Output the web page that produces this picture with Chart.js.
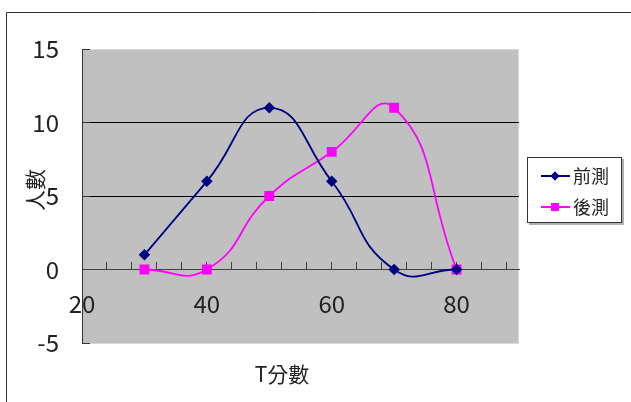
<!DOCTYPE html>
<html>
<head>
<meta charset="utf-8">
<script src="https://cdn.jsdelivr.net/npm/chart.js@4.4.1/dist/chart.umd.min.js"></script>
<style>
  html, body { margin: 0; padding: 0; background: #fff; }
  #wrap { width: 631px; height: 402px; position: relative; }
</style>
</head>
<body>
<div id="wrap"><canvas id="c" width="631" height="402"></canvas></div>
<script>
// data
const scores = [30, 40, 50, 60, 70, 80];
const preTest = [1, 6, 11, 6, 0, 0];
const postTest = [0, 0, 5, 8, 11, 0];
const xTickLabels = [20, 40, 60, 80];
const yGridValues = [5, 10];

const FONT = "'Noto Sans CJK TC', 'Noto Sans', sans-serif";

// gray plot area + outer frame + axis titles
const backdrop = {
    id: 'backdrop',
    beforeDraw(chart) {
        const { ctx, chartArea: a } = chart;
        ctx.save();
        ctx.fillStyle = '#fff';
        ctx.fillRect(0, 0, chart.width, chart.height);
        ctx.fillStyle = '#c0c0c0';
        ctx.fillRect(a.left, a.top, a.right - a.left, a.bottom - a.top);
        ctx.strokeStyle = '#d9d9d9';
        ctx.lineWidth = 1;
        ctx.strokeRect(a.left + 0.5, a.top + 0.5, a.right - a.left - 1, a.bottom - a.top);
        // outer chart frame (top and left edges show)
        ctx.strokeStyle = '#333';
        ctx.beginPath();
        ctx.moveTo(6.5, 402);
        ctx.lineTo(6.5, 12.5);
        ctx.lineTo(631, 12.5);
        ctx.stroke();
        ctx.restore();
    },
    afterDraw(chart) {
        const { ctx } = chart;
        ctx.save();
        ctx.fillStyle = '#222';
        ctx.font = '21px ' + FONT;
        ctx.textAlign = 'center';
        ctx.textBaseline = 'middle';
        ctx.fillText('T分數', 282, 374);
        ctx.translate(35, 190);
        ctx.rotate(-Math.PI / 2);
        ctx.fillText('人數', 0, 0);
        ctx.restore();
    }
};

// boxed legend on the right
const boxLegend = {
    id: 'boxLegend',
    afterDraw(chart) {
        const { ctx } = chart;
        ctx.save();
        ctx.fillStyle = '#b0b0b0';
        ctx.fillRect(529, 159, 95, 66);
        ctx.fillStyle = '#fff';
        ctx.fillRect(527, 157, 95, 66);
        ctx.strokeStyle = '#333';
        ctx.lineWidth = 1;
        ctx.strokeRect(527.5, 157.5, 94, 65);
        chart.data.datasets.forEach((ds, i) => {
            const y = 176 + i * 31;
            ctx.strokeStyle = ds.borderColor;
            ctx.lineWidth = 2;
            ctx.beginPath();
            ctx.moveTo(541, y);
            ctx.lineTo(570, y);
            ctx.stroke();
            ctx.fillStyle = ds.pointBackgroundColor;
            Chart.helpers.drawPoint(ctx, { pointStyle: ds.pointStyle, radius: ds.pointRadius, rotation: 0, borderWidth: 0 }, 555, y);
            ctx.fill();
            ctx.fillStyle = '#222';
            ctx.font = '18px ' + FONT;
            ctx.textAlign = 'left';
            ctx.textBaseline = 'middle';
            ctx.fillText(ds.label, 573, y);
        });
        ctx.restore();
    }
};

new Chart(document.getElementById('c'), {
    type: 'line',
    data: {
        datasets: [
            {
                label: '前測',
                data: scores.map((x, i) => ({ x: x, y: preTest[i] })),
                borderColor: '#000080',
                backgroundColor: '#000080',
                pointBackgroundColor: '#000080',
                pointBorderColor: '#000080',
                pointStyle: 'rectRot',
                pointRadius: 4.5,
                borderWidth: 1.8,
                tension: 0.5
            },
            {
                label: '後測',
                data: scores.map((x, i) => ({ x: x, y: postTest[i] })),
                borderColor: '#ff00ff',
                backgroundColor: '#ff00ff',
                pointBackgroundColor: '#ff00ff',
                pointBorderColor: '#ff00ff',
                pointStyle: 'rect',
                pointRadius: 5.7,
                borderWidth: 1.8,
                tension: 0.5
            }
        ]
    },
    options: {
        responsive: false,
        animation: false,
        layout: { padding: { left: 0, top: 49, right: 112, bottom: 59 } },
        plugins: { legend: { display: false }, tooltip: { enabled: false } },
        scales: {
            x: {
                type: 'linear',
                position: { y: 0 },
                min: 20,
                max: 90,
                afterFit(s) { s.height = 0; },
                border: { display: true, color: '#404040', width: 1 },
                grid: { drawOnChartArea: false, tickLength: -8, tickColor: '#404040' },
                ticks: {
                    stepSize: 4,
                    includeBounds: false,
                    autoSkip: false,
                    maxRotation: 0,
                    padding: 28,
                    color: '#222',
                    font: { family: FONT, size: 24 },
                    callback: v => xTickLabels.includes(v) ? String(v) : ''
                }
            },
            y: {
                min: -5,
                max: 15,
                afterFit(s) { s.width = 82; },
                border: { display: true, color: '#333', width: 1 },
                grid: {
                    color: c => yGridValues.includes(c.tick.value) ? '#000' : 'rgba(0,0,0,0)',
                    tickLength: -8,
                    tickColor: '#333'
                },
                ticks: {
                    stepSize: 5,
                    padding: 31,
                    color: '#222',
                    font: { family: FONT, size: 24 }
                }
            }
        }
    },
    plugins: [backdrop, boxLegend]
});
</script>
</body>
</html>
